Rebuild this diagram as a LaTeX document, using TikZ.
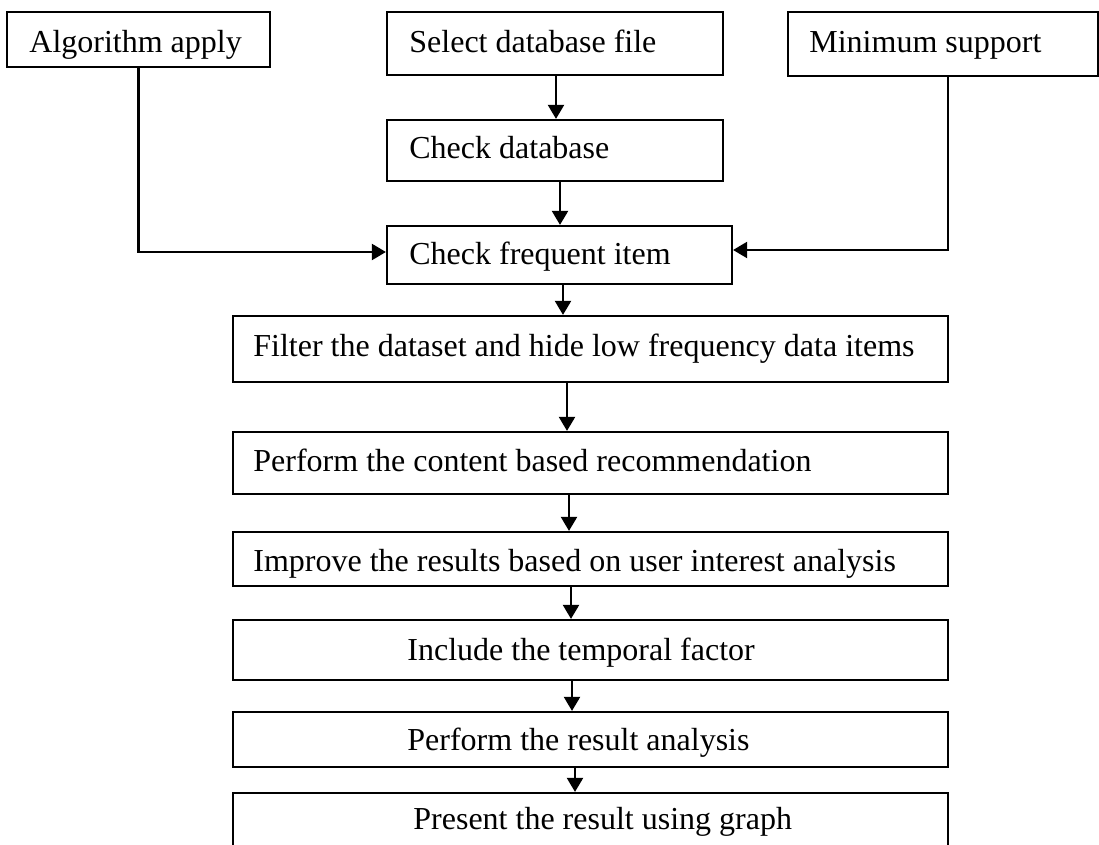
\documentclass[tikz,border=0pt]{standalone}
\usepackage{fontspec}
\setmainfont{Liberation Serif}
\usetikzlibrary{fit,arrows.meta}
\tikzset{
  box/.style={draw=black, line width=1.1pt, inner sep=0pt, fill=none},
  lbl/.style={anchor=base west, inner sep=0pt, font=\fontsize{16pt}{19pt}\selectfont},
  arr/.style={draw=black, line width=1.1pt, -{Triangle[length=7pt,width=8pt]}},
}
\begin{document}
\begin{tikzpicture}[x=0.5pt,y=-0.5pt]
\clip (0,0) rectangle (1099,845);
\fill[white] (0,0) rectangle (1099,845);
% boxes
\node[box, fit={(7,12) (270,67)}] (alg) {};
\node[box, fit={(387,12) (723,75)}] (sel) {};
\node[box, fit={(788,12) (1098,76)}] (min) {};
\node[box, fit={(387,120) (723,181)}] (chk) {};
\node[box, fit={(387,226) (732,284)}] (freq) {};
\node[box, fit={(233,316) (948,382)}] (filt) {};
\node[box, fit={(233,432) (948,494)}] (cont) {};
\node[box, fit={(233,532) (948,586)}] (impr) {};
\node[box, fit={(233,620) (948,680)}] (incl) {};
\node[box, fit={(233,712) (948,767)}] (res) {};
\node[box, fit={(233,793) (948,870)}] (pres) {};
% texts
\node[lbl] (talg) at (29,53) {Algorithm apply};
\node[lbl] (tsel) at (409,53) {Select database file};
\node[lbl] (tmin) at (809,53) {Minimum support};
\node[lbl] (tchk) at (409,159) {Check database};
\node[lbl] (tfreq) at (409,265) {Check frequent item};
\node[lbl] (tfilt) at (253,357) {Filter the dataset and hide low frequency data items};
\node[lbl] (tcont) at (253,472) {Perform the content based recommendation};
\node[lbl] (timpr) at (253,572) {Improve the results based on user interest analysis};
\node[lbl] (tincl) at (407,660) {Include the temporal factor};
\node[lbl] (tres) at (407,750) {Perform the result analysis};
\node[lbl] (tpres) at (413,829) {Present the result using graph};
% helper coordinates for connector x positions
\coordinate (x1) at (556,0);
\coordinate (x2) at (560,0);
\coordinate (x3) at (563,0);
\coordinate (x4) at (567,0);
\coordinate (x5) at (569,0);
\coordinate (x6) at (571,0);
\coordinate (x7) at (572,0);
\coordinate (x8) at (575,0);
\coordinate (xm) at (948,0);
\coordinate (ya) at (0,252);
\coordinate (ym) at (0,250);
% connectors
\draw[arr] (sel.south -| x1) -- (chk.north -| x1);
\draw[arr] (chk.south -| x2) -- (freq.north -| x2);
\draw[arr] (freq.south -| x3) -- (filt.north -| x3);
\draw[arr] (filt.south -| x4) -- (cont.north -| x4);
\draw[arr] (cont.south -| x5) -- (impr.north -| x5);
\draw[arr] (impr.south -| x6) -- (incl.north -| x6);
\draw[arr] (incl.south -| x7) -- (res.north -| x7);
\draw[arr] (res.south -| x8) -- (pres.north -| x8);
\coordinate (fa) at (freq.west |- ya);
\coordinate (fm) at (freq.east |- ym);
\coordinate (mb) at (min.south -| xm);
\draw[arr] (alg.south) |- (fa);
\draw[arr] (mb) |- (fm);
\end{tikzpicture}
\end{document}
